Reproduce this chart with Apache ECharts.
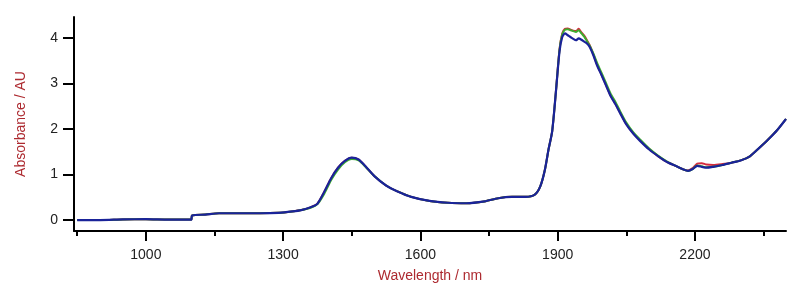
<!DOCTYPE html>
<html>
<head>
<meta charset="utf-8">
<script src="https://cdn.jsdelivr.net/npm/echarts@6/dist/echarts.min.js"></script>
<style>
  html, body { margin: 0; padding: 0; background: #fff; }
  #main { width: 800px; height: 300px; }
</style>
</head>
<body>
<div id="main"></div>
<script>
// wavelength grid (nm)
var wl = [850, 900, 950, 1000, 1050, 1099, 1101, 1130, 1160, 1200, 1250, 1290, 1320, 1340, 1360, 1375, 1390, 1405, 1420, 1435,
  1450, 1465, 1480, 1500, 1525, 1550, 1580, 1620, 1660, 1700, 1740, 1770, 1800, 1830, 1850, 1862, 1872, 1880, 1888, 1896,
  1904, 1910, 1916, 1922, 1928, 1934, 1940, 1946, 1952, 1958, 1964, 1970, 1978, 1986, 1996, 2006, 2016, 2026, 2036, 2050,
  2065, 2080, 2100, 2120, 2140, 2160, 2175, 2185, 2195, 2205, 2215, 2225, 2240, 2260, 2280, 2300, 2320, 2340, 2360, 2380, 2399];

var redAbs = [0.00, 0.00, 0.015, 0.02, 0.01, 0.01, 0.10, 0.12, 0.15, 0.15, 0.15, 0.16, 0.19, 0.22, 0.28, 0.36, 0.62, 0.92, 1.15, 1.30,
  1.37, 1.33, 1.18, 0.96, 0.76, 0.63, 0.51, 0.42, 0.38, 0.37, 0.41, 0.48, 0.51, 0.51, 0.56, 0.74, 1.10, 1.55, 1.95, 2.80,
  3.75, 4.10, 4.20, 4.21, 4.18, 4.16, 4.15, 4.20, 4.12, 4.05, 3.95, 3.84, 3.64, 3.42, 3.19, 2.96, 2.73, 2.56, 2.37, 2.11,
  1.91, 1.75, 1.56, 1.40, 1.27, 1.18, 1.11, 1.09, 1.14, 1.24, 1.25, 1.22, 1.21, 1.23, 1.26, 1.31, 1.40, 1.58, 1.77, 1.98, 2.22];

var greenAbs = [0.00, 0.00, 0.015, 0.02, 0.01, 0.01, 0.10, 0.12, 0.15, 0.15, 0.15, 0.16, 0.19, 0.22, 0.27, 0.35, 0.58, 0.88, 1.11, 1.27,
  1.34, 1.31, 1.17, 0.96, 0.76, 0.63, 0.51, 0.42, 0.38, 0.37, 0.41, 0.48, 0.51, 0.51, 0.56, 0.74, 1.10, 1.55, 1.95, 2.80,
  3.74, 4.08, 4.18, 4.19, 4.17, 4.15, 4.13, 4.17, 4.10, 4.03, 3.93, 3.83, 3.66, 3.46, 3.23, 3.00, 2.77, 2.60, 2.40, 2.14,
  1.93, 1.77, 1.57, 1.41, 1.28, 1.18, 1.11, 1.08, 1.12, 1.20, 1.18, 1.16, 1.17, 1.21, 1.26, 1.31, 1.40, 1.58, 1.77, 1.98, 2.22];

var blueAbs = [0.00, 0.00, 0.015, 0.02, 0.01, 0.01, 0.10, 0.12, 0.15, 0.15, 0.15, 0.16, 0.19, 0.22, 0.28, 0.36, 0.62, 0.92, 1.15, 1.30,
  1.37, 1.33, 1.18, 0.96, 0.76, 0.63, 0.51, 0.42, 0.38, 0.37, 0.41, 0.48, 0.51, 0.51, 0.56, 0.74, 1.10, 1.55, 1.95, 2.80,
  3.70, 4.02, 4.10, 4.06, 4.02, 3.98, 3.95, 3.99, 3.96, 3.92, 3.88, 3.80, 3.62, 3.40, 3.18, 2.95, 2.72, 2.55, 2.36, 2.10,
  1.90, 1.74, 1.55, 1.40, 1.27, 1.18, 1.11, 1.08, 1.12, 1.19, 1.17, 1.15, 1.17, 1.21, 1.26, 1.31, 1.40, 1.58, 1.77, 1.98, 2.22];

var xMajor = [1000, 1300, 1600, 1900, 2200];
var xMinor = [850, 1150, 1450, 1750, 2050, 2350];
var yTicks = [0, 1, 2, 3, 4];

function pairs(vals) {
  var out = [];
  for (var i = 0; i < wl.length; i++) out.push([wl[i], vals[i]]);
  return out;
}

var nameColor = '#ad2a30';
var font = 'Liberation Sans, Arial, sans-serif';
var labelColor = '#222';

var chart = echarts.init(document.getElementById('main'), null, { renderer: 'canvas' });
chart.setOption({
  animation: false,
  grid: { left: 74, right: 14, top: 17, bottom: 69 },
  xAxis: [{
    type: 'value', min: 843, max: 2399,
    name: 'Wavelength / nm', nameLocation: 'middle', nameGap: 38,
    nameTextStyle: { color: nameColor, fontSize: 14, fontFamily: font },
    axisLine: { show: true, onZero: false, lineStyle: { color: '#000', width: 2 } },
    axisTick: { show: true, length: 10, customValues: xMajor, lineStyle: { color: '#000', width: 2 } },
    axisLabel: { customValues: xMajor, margin: 17, color: labelColor, fontSize: 14, fontFamily: font,
      formatter: function (v) { return String(v); } },
    splitLine: { show: false }
  }, {
    // short ticks in between the labelled ones
    type: 'value', min: 843, max: 2399, position: 'bottom',
    axisLine: { show: false, onZero: false },
    axisTick: { show: true, length: 5, customValues: xMinor, lineStyle: { color: '#000', width: 2 } },
    axisLabel: { show: false },
    splitLine: { show: false }
  }],
  yAxis: {
    type: 'value', min: -0.24, max: 4.46,
    name: 'Absorbance / AU', nameLocation: 'middle', nameGap: 46,
    nameTextStyle: { color: nameColor, fontSize: 14, fontFamily: font },
    axisLine: { show: true, lineStyle: { color: '#000', width: 2 } },
    axisTick: { show: true, length: 11, customValues: yTicks, lineStyle: { color: '#000', width: 2 } },
    axisLabel: { customValues: yTicks, margin: 16, color: labelColor, fontSize: 14, fontFamily: font },
    splitLine: { show: false }
  },
  series: [
    { name: 'red', type: 'line', showSymbol: false, smooth: 0.25,
      data: pairs(redAbs), lineStyle: { color: '#d42a3c', width: 2 } },
    { name: 'green', type: 'line', showSymbol: false, smooth: 0.25,
      data: pairs(greenAbs), lineStyle: { color: '#3dac2e', width: 2 } },
    { name: 'blue', type: 'line', showSymbol: false, smooth: 0.25,
      data: pairs(blueAbs), lineStyle: { color: '#1a2399', width: 2.2 } }
  ]
});
</script>
</body>
</html>
